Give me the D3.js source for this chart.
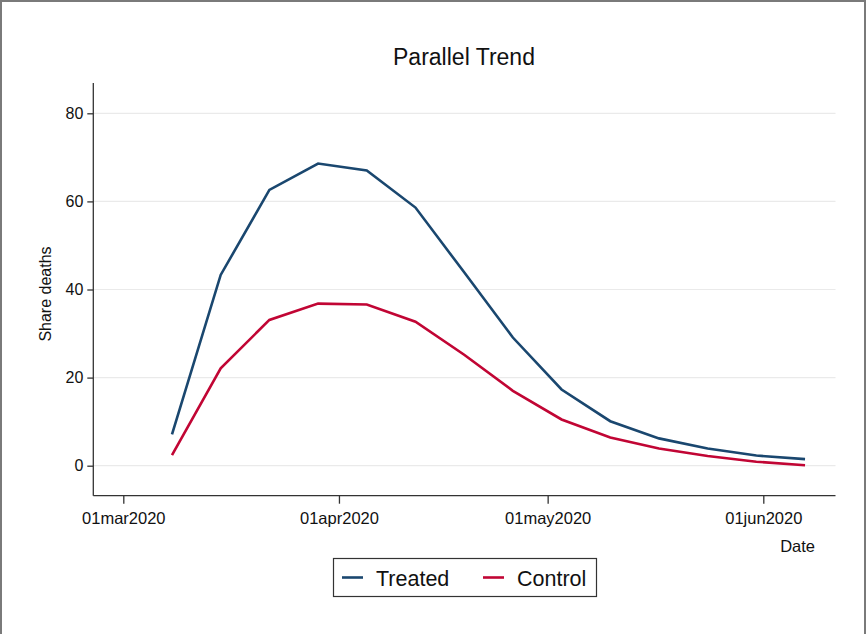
<!DOCTYPE html>
<html><head><meta charset="utf-8">
<script src="https://cdn.jsdelivr.net/npm/d3@7"></script>
<style>
html,body{margin:0;padding:0;background:#fff;}
svg{display:block;font-family:"Liberation Sans",Arial,sans-serif;}
</style></head>
<body>
<svg id="chart" width="866" height="634"></svg>
<script>
const dates = ["2020-03-08","2020-03-15","2020-03-22","2020-03-29","2020-04-05","2020-04-12","2020-04-19","2020-04-26","2020-05-03","2020-05-10","2020-05-17","2020-05-24","2020-05-31","2020-06-07"];
const treated = [7.1,43.3,62.6,68.6,67.0,58.6,43.9,29.1,17.3,10.1,6.2,3.9,2.3,1.5];
const control = [2.4,22.1,33.1,36.8,36.6,32.7,25.2,17.0,10.5,6.4,3.9,2.2,0.9,0.1];
const yTicks = [0,20,40,60,80];
const xTickDates = ["2020-03-01","2020-04-01","2020-05-01","2020-06-01"];
const xTickLabels = ["01mar2020","01apr2020","01may2020","01jun2020"];
const seriesNames = ["Treated","Control"];
const seriesColors = ["#1a476f","#c10534"];

(function(){
const parse = d3.utcParse("%Y-%m-%d");
const svg = d3.select("#chart");
const FF = "Liberation Sans, Arial, sans-serif";

// outer frame
svg.append("rect").attr("x",1).attr("y",1).attr("width",864).attr("height",640)
  .attr("fill","#fff").attr("stroke","#7a7a7a").attr("stroke-width",2);

const x = d3.scaleUtc().domain([parse("2020-03-01"), parse("2020-06-01")]).range([123.3, 763.3]);
const y = d3.scaleLinear().domain([0,80]).range([465.7, 113.3]);
const pL = 93.3, pR = 835.5, pT = 83, pB = 495.7;

// gridlines
svg.append("g").selectAll("line").data(yTicks).join("line")
  .attr("x1",pL).attr("x2",pR)
  .attr("y1",d=>y(d)).attr("y2",d=>y(d))
  .attr("stroke","#eaeaea").attr("stroke-width",1.2);

// y axis
const yAxis = d3.axisLeft(y).tickValues(yTicks).tickSize(6).tickPadding(4).tickFormat(d3.format("d"));
const gy = svg.append("g").attr("transform",`translate(${pL},0)`).call(yAxis);
gy.select(".domain").remove();
gy.append("line").attr("x1",0).attr("x2",0).attr("y1",pT).attr("y2",pB).attr("stroke","#333").attr("stroke-width",1.3);
gy.selectAll(".tick line").attr("stroke","#333").attr("stroke-width",1.3);
gy.selectAll(".tick text").attr("font-size",16).attr("fill","#111").attr("font-family",FF);

// x axis
const xAxis = d3.axisBottom(x).tickValues(xTickDates.map(parse)).tickSize(8).tickPadding(9)
  .tickFormat((d,i)=>xTickLabels[i]);
const gx = svg.append("g").attr("transform",`translate(0,${pB})`).call(xAxis);
gx.select(".domain").remove();
gx.append("line").attr("x1",pL).attr("x2",pR).attr("y1",0).attr("y2",0).attr("stroke","#333").attr("stroke-width",1.3);
gx.selectAll(".tick line").attr("stroke","#333").attr("stroke-width",1.3);
gx.selectAll(".tick text").attr("font-size",16.5).attr("fill","#111").attr("font-family",FF);

// lines
const line = d3.line().x(d=>x(d.date)).y(d=>y(d.v));
[treated, control].forEach((vals,i)=>{
  const data = dates.map((d,j)=>({date:parse(d), v:vals[j]}));
  svg.append("path").datum(data).attr("d",line)
    .attr("fill","none").attr("stroke",seriesColors[i]).attr("stroke-width",2.6)
    .attr("stroke-linejoin","miter");
});

// title
svg.append("text").attr("x",464).attr("y",65).attr("text-anchor","middle")
  .attr("font-size",23).attr("fill","#111").text("Parallel Trend");

// axis titles
svg.append("text").attr("transform","translate(51,294) rotate(-90)").attr("text-anchor","middle")
  .attr("font-size",16).attr("fill","#111").text("Share deaths");
svg.append("text").attr("x",815).attr("y",552).attr("text-anchor","end")
  .attr("font-size",16.5).attr("fill","#111").text("Date");

// legend
const lg = svg.append("g");
lg.append("rect").attr("x",333.5).attr("y",558.5).attr("width",263).attr("height",38)
  .attr("fill","#fff").attr("stroke","#333").attr("stroke-width",1.2);
const legX = [[342,376],[483,517]];
seriesNames.forEach((n,i)=>{
  lg.append("line").attr("x1",legX[i][0]).attr("x2",legX[i][0]+21).attr("y1",577.5).attr("y2",577.5)
    .attr("stroke",seriesColors[i]).attr("stroke-width",2.6);
  lg.append("text").attr("x",legX[i][1]).attr("y",585.5).attr("font-size",21.5).attr("fill","#111").text(n);
});
})();
</script>
</body></html>
